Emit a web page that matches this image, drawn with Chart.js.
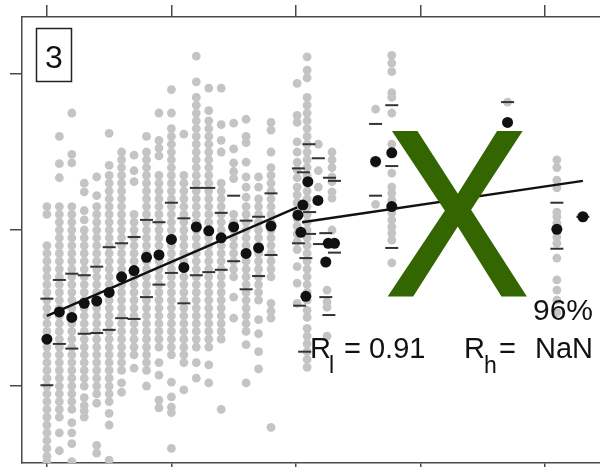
<!DOCTYPE html>
<html>
<head>
<meta charset="utf-8">
<script src="https://cdn.jsdelivr.net/npm/chart.js@4.4.1/dist/chart.umd.min.js"></script>
<style>
  html, body { margin: 0; padding: 0; background: #fff; overflow: hidden; }
  #wrap { width: 600px; height: 467px; overflow: hidden; }
  canvas { display: block; }
</style>
</head>
<body>
<div id="wrap"><canvas id="chart" width="630" height="480"></canvas></div>
<script>
// gray raw points: one x per column, list of y per column
const grayX = [0, 1, 2, 3, 4, 5, 6, 7, 8, 9, 10, 11, 12, 13, 14, 15, 16, 17, 18,
  20.1, 20.9, 21.8, 22.5, 22.9, 26.4, 27.7, 37.0, 40.96];
const grayY = [
  [23, 22, 18, 17, 16, 15, 14, 13, 12, 11, 10, 9, 8, 7, 6, 5, 4, 3, 2, 1, 0, -1, -2, -3, -4, -5, -6, -7, -8, -9, -9.7],
  [32, 28.5, 26.7, 23, 22, 21, 20, 19, 18, 17, 16, 15, 14, 13, 12, 11, 10, 9, 8, 7, 6, 5, 4, 3, 2, 1, 0, -1, -2, -3, -4, -6, -8.3],
  [35, 29.7, 28.6, 23, 22, 21, 20, 19, 18, 17, 16, 15, 14, 13, 12, 11, 10, 9, 8, 7, 6, 5, 4, 3, 2, 1, 0, -1, -2, -3, -4.7, -6, -7.4, -9.7],
  [26, 24.9, 22.5, 21.3, 20, 19, 18, 17, 16, 15, 14, 13, 12, 11, 10, 9, 8, 7, 6, 5, 4, 3, 2, 1, 0, -1.5, -2.5, -3.2, -4],
  [26.8, 24.4, 23, 22, 21, 20, 19, 18, 17, 16, 15, 14, 13, 12, 11, 10, 9, 8, 7, 6, 5, 4, 3, 2, 1, 0, -1, -2.2, -7.6, -8.6],
  [32.4, 28.3, 27, 26, 25, 24, 23, 22, 21, 20, 19, 18, 17, 16, 15, 14, 13, 12, 11, 10, 9, 8, 7, 6, 5, 4, 3, 2, 1, 0, -1, -2, -3.5, -5, -9.5],
  [30, 29, 28, 27, 26, 25, 24, 23, 22, 21, 20, 19, 18, 17, 16, 15, 14, 13, 12, 11, 10, 9, 8, 7, 6, 5, 4, 3, 2, 0.4, -0.8],
  [29.6, 27.6, 26.2, 22, 21, 20, 19, 18, 17, 16, 15, 14, 13, 12, 11, 10, 9, 8, 7, 6, 5, 4, 2.3],
  [32, 30, 29, 28, 27, 26, 25, 24, 23, 22, 21, 20, 19, 18, 17, 16, 15, 14, 13, 12, 11, 10, 9, 8, 7, 6, 5, 4, 3, 2, 0],
  [35, 31.5, 30.5, 29.5, 27, 26, 25, 24, 23, 22, 21, 20, 19, 18, 17, 16, 15, 14, 13, 12, 11, 10, 9, 8, 7, 6, 5, 3, 1.4, -1.8, -2.8],
  [38, 35, 33, 32, 31, 30, 29, 28, 27, 26, 25, 24, 23, 22, 21, 20, 19, 18, 17, 16, 15, 14, 13, 12, 11, 10, 9, 8, 7, 6, 5, 4, 0.5, -1.4, -2.7, -3.4, -8],
  [32.3, 27, 26, 25, 24, 23, 22, 21, 20, 19, 18, 17, 16, 15, 14, 13, 12, 11, 10, 9, 8, 7, 6, 5, 4, 3, -0.5],
  [42.3, 39, 37, 36, 35, 34, 33, 32, 31, 30, 29, 28, 27, 26, 25, 24, 23, 22, 21, 20, 19, 18, 17, 16, 15, 14, 13, 12, 11, 10, 9, 8, 7, 6, 5, 3, 1],
  [38.2, 35.3, 34, 33, 32, 31, 30, 29, 28, 27, 26, 25, 24, 23, 22, 21, 20, 19, 18, 17, 16, 15, 14, 13, 12, 11, 10, 9, 8, 7, 6, 5, 2.7, 0.4],
  [38.2, 33.5, 31.5, 30, 26, 25, 24, 23, 22, 21, 20, 19, 18, 17, 16, 15, 14, 13, 12, 11, 10, 9, 8, 7, 6, -3],
  [33.7, 30.4, 28.6, 27.5, 26.6, 22, 21, 20, 19, 18, 17, 16, 15, 14, 11.4, 8.7],
  [34.2, 32, 31.2, 28.7, 26.8, 25.5, 24.2, 23, 22, 21, 20, 19, 18, 17, 16, 15, 14, 13, 12, 11, 10, 9, 8, 7, 5.3, 0.4],
  [26.8, 25.5, 24, 23, 22, 21, 20, 19, 18, 17, 16, 15, 14, 13, 12, 11, 8.5, 6.7, 4.4, 2.2],
  [33.8, 32.8, 30, 28, 27, 26, 25, 24, 23, 22, 21, 20, 19, 18, 17, 16, 15, 14, 10.6, 9.6, 8.7, -5.3],
  [38.8, 34.7, 33.8, 31.3, 30, 28.7, 27.7, 26.7, 25.5, 24.5, 23.5, 22.5, 21.5, 20.5, 19.5, 18.5, 17.5, 15.3, 13.2, 10.6],
  [42.2, 40.5, 39.5, 37, 36, 35, 34, 33, 32, 31, 30, 29, 28, 27, 26, 25, 24, 23, 22, 21, 20, 19, 18, 17, 16, 15, 14, 13, 12, 11, 9.7, 8.8, 7.4, 6.4, 5.4, 4.4, 3.4, 2.4],
  [31, 27.6, 25.5, 23.8],
  [12.3, 10.8, 10.1, 6.4],
  [30, 29, 28, 26.8, 26.2, 24.9, 24.1, 20],
  [35.5, 28.5, 23.3],
  [42.4, 41.4, 40.3, 37.6, 37, 35, 31, 27.3, 25.5, 24.7, 23.8, 22.2, 21.3, 20.4, 19.6, 18.7, 15.8],
  [36.4],
  [29, 28, 26.4, 25.4, 22.3, 21.7, 20.9, 19.1, 18.3, 16.4, 13.6, 12.3, 11, 9.4]
];

// black group means
const meanX = [0, 1, 2, 3, 4, 5, 6, 7, 8, 9, 10, 11, 12, 13, 14, 15, 16, 17, 18,
  20.96, 20.56, 21.77, 20.16, 20.4, 22.6, 23.1, 22.4, 20.8, 26.4, 27.7, 27.7, 37.0, 40.96, 43.05];
const meanY = [6.0, 9.5, 8.8, 10.6, 10.9, 12.0, 14.0, 14.8, 16.5, 16.8, 18.8, 15.2, 20.4, 19.9, 19.0, 20.4, 17.0, 17.7, 20.5,
  26.2, 23.2, 23.8, 21.9, 19.7, 18.3, 18.3, 15.9, 11.5, 28.8, 29.9, 23.0, 33.8, 20.1, 21.7];

// short horizontal dashes (spread marks)
const dashX = [0, 0, 1, 1, 2, 2, 3, 3, 4, 4, 5, 5, 6, 6, 7, 7, 8, 8, 9, 9,
  10, 10, 11, 11, 12, 12, 13, 13, 14, 14, 15, 15, 16, 16, 17, 17, 18, 18,
  21.05, 21.8, 20.2, 20.6, 22.7, 23.1, 21.1, 20.2, 21.1, 21.9, 22.4, 23.1, 20.8, 22.4, 20.3, 22.65, 20.7,
  26.4, 26.4, 27.7, 27.7, 27.7, 37.0, 40.96, 40.96, 43.05];
const dashY = [11.2, 0.1, 13.6, 5.4, 14.4, 4.8, 14.2, 6.7, 15.3, 6.8, 17.8, 7.2, 18.3, 8.7, 19.1, 8.6, 21.3, 11.4, 21.0, 13.0,
  23.5, 14.5, 21.5, 10.6, 25.4, 14.2, 25.4, 14.6, 22.2, 14.9, 24.4, 16.0, 21.2, 12.4, 21.7, 14.1, 24.7, 16.8,
  31.0, 29.2, 27.9, 27.4, 26.7, 26.3, 22.3, 18.3, 19.5, 18.2, 19.6, 17.1, 16.4, 11.4, 10.3, 9.1, 4.4,
  33.6, 24.4, 36.0, 28.2, 17.7, 36.4, 23.5, 17.6, 21.7];

// two fitted segments
const lowFitX = [0, 20.1];
const lowFitY = [9.0, 22.9];
const highFitX = [20.5, 43.05];
const highFitY = [21.0, 26.3];

// axis ticks (unlabelled)
const xTickStep = 10;
const yTickStep = 20;

// annotations
const panelLabel = '3';
const bigMark = 'X';
const coverageLabel = '96%';
const rLow = ['R', 'l', '= 0.91'];
const rHigh = ['R', 'h', '=', 'NaN'];

const grayPoints = [];
grayX.forEach((x, i) => grayY[i].forEach(y => grayPoints.push({ x, y })));
const toPts = (xs, ys) => xs.map((x, i) => ({ x, y: ys[i] }));

const frameColor = '#4a4a4a';
const font = '"Liberation Sans", Arial, sans-serif';

const annotate = {
  id: 'annotate',
  afterDatasetsDraw(chart) {
    const ctx = chart.ctx;
    ctx.save();
    // big green X (slightly thickened with a stroke)
    ctx.save();
    ctx.fillStyle = '#336600';
    ctx.strokeStyle = '#336600';
    ctx.lineWidth = 3;
    ctx.lineJoin = 'miter';
    ctx.font = '236px ' + font;
    ctx.textAlign = 'center';
    ctx.textBaseline = 'alphabetic';
    ctx.translate(457, 295);
    ctx.scale(0.91, 1);
    ctx.fillText(bigMark, 0, 0);
    ctx.strokeText(bigMark, 0, 0);
    ctx.restore();

    ctx.fillStyle = '#111';
    ctx.textBaseline = 'alphabetic';
    // percent
    ctx.font = '30px ' + font;
    ctx.textAlign = 'right';
    ctx.fillText(coverageLabel, 593, 320);

    // R_l = 0.91
    ctx.textAlign = 'left';
    ctx.font = '29px ' + font;
    ctx.fillText(rLow[0], 310, 358);
    ctx.fillText(rLow[2], 344, 358);
    ctx.font = '23px ' + font;
    ctx.fillText(rLow[1], 329, 373);

    // R_h = NaN
    ctx.font = '29px ' + font;
    ctx.fillText(rHigh[0], 464, 358);
    ctx.fillText(rHigh[2], 499, 358);
    ctx.textAlign = 'right';
    ctx.fillText(rHigh[3], 593, 358);
    ctx.textAlign = 'left';
    ctx.font = '23px ' + font;
    ctx.fillText(rHigh[1], 484, 373);

    // boxed panel number
    ctx.strokeStyle = '#222';
    ctx.lineWidth = 1.5;
    ctx.strokeRect(36.5, 28.5, 35, 53);
    ctx.font = '32px ' + font;
    ctx.textAlign = 'center';
    ctx.fillText(panelLabel, 54, 68);
    ctx.restore();
  }
};

const axisCommon = (pos, step) => ({
  type: 'linear',
  position: pos,
  ticks: { display: false, stepSize: step, includeBounds: false },
  grid: { drawOnChartArea: false, drawTicks: true, tickLength: 12, color: frameColor, lineWidth: 1.5 },
  border: { display: true, color: frameColor, width: 1.5 },
});

new Chart(document.getElementById('chart'), {
  type: 'scatter',
  data: {
    datasets: [
      {
        data: toPts(lowFitX, lowFitY), showLine: true, borderColor: '#111', borderWidth: 2.5,
        pointRadius: 0, order: 0,
      },
      {
        data: toPts(highFitX, highFitY), showLine: true, borderColor: '#111', borderWidth: 2.5,
        pointRadius: 0, order: 0,
      },
      {
        data: toPts(meanX, meanY), backgroundColor: '#111', borderColor: '#111',
        pointRadius: 5.5, pointBorderWidth: 0, order: 1,
      },
      {
        data: toPts(dashX, dashY), pointStyle: 'line', pointRadius: 6.5,
        borderColor: '#333', pointBorderColor: '#333', pointBorderWidth: 2, order: 2,
      },
      {
        data: grayPoints, backgroundColor: '#c4c4c4', borderColor: '#c4c4c4',
        pointRadius: 4.4, pointBorderWidth: 0, order: 3,
      },
    ],
  },
  options: {
    responsive: false,
    animation: false,
    events: [],
    layout: { padding: { left: 0, top: 0, right: 15, bottom: 0 } },
    plugins: { legend: { display: false }, tooltip: { enabled: false } },
    scales: {
      x: Object.assign(axisCommon('bottom', xTickStep), {
        min: -2.0, max: 45.63,
        afterFit(s) { s.height = 17; },
      }),
      xTop: Object.assign(axisCommon('top', xTickStep), {
        min: -2.0, max: 45.63,
        afterFit(s) { s.height = 17; },
      }),
      y: Object.assign(axisCommon('left', yTickStep), {
        min: -9.87, max: 47.31,
        afterFit(s) { s.width = 22; },
      }),
    },
  },
  plugins: [annotate],
});
</script>
</body>
</html>
